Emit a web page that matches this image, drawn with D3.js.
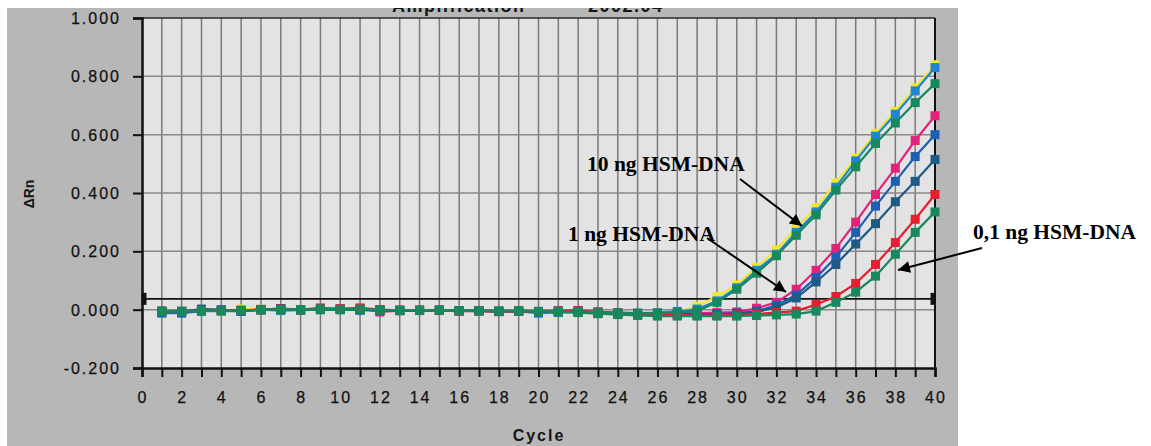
<!DOCTYPE html>
<html>
<head>
<meta charset="utf-8">
<script src="https://cdn.jsdelivr.net/npm/d3@7"></script>
<style>
  html, body { margin: 0; padding: 0; background: #fff; }
  svg { display: block; }
  .tick-label { font-family: "Liberation Sans", Arial, sans-serif; font-size: 16px; fill: #111; letter-spacing: 2px; stroke: #111; stroke-width: 0.25px; }
  .axis-title { font-family: "Liberation Sans", Arial, sans-serif; font-weight: bold; fill: #151515; }
  .note { font-family: "Liberation Serif", "Times New Roman", serif; font-weight: bold; font-size: 21.5px; fill: #000; }
</style>
</head>
<body>
<svg id="chart" width="1151" height="446"></svg>
<script>
// cycles on the x axis
const cycles = [1,2,3,4,5,6,7,8,9,10,11,12,13,14,15,16,17,18,19,20,
                21,22,23,24,25,26,27,28,29,30,31,32,33,34,35,36,37,38,39,40];

const xTicks = [0,2,4,6,8,10,12,14,16,18,20,22,24,26,28,30,32,34,36,38,40];
const yTicks = [-0.2, 0, 0.2, 0.4, 0.6, 0.8, 1.0];
const threshold = 0.037;

// 10 ng HSM-DNA
const yellow10 = [-0.008,-0.01,-0.004,-0.004,0.002,0.002,0.001,-0.001,0.001,0.002,0.0,-0.002,-0.003,-0.002,-0.002,-0.004,-0.004,-0.006,-0.006,-0.007,
                  -0.008,-0.01,-0.012,-0.012,-0.014,-0.012,-0.008,0.012,0.045,0.085,0.145,0.205,0.28,0.35,0.435,0.52,0.605,0.68,0.76,0.84];
const lightBlue10 = [-0.012,-0.012,-0.005,-0.004,-0.006,0.0,-0.003,-0.002,0.0,0.003,-0.002,-0.002,-0.004,-0.003,-0.002,-0.004,-0.005,-0.006,-0.006,-0.012,
                  -0.01,-0.008,-0.012,-0.014,-0.012,-0.01,-0.006,0.002,0.03,0.075,0.135,0.19,0.265,0.335,0.42,0.51,0.595,0.67,0.75,0.83];
const green10 = [-0.005,-0.005,-0.004,-0.004,-0.003,-0.001,0.0,0.0,0.002,0.001,0.002,-0.001,-0.002,-0.002,-0.001,-0.003,-0.004,-0.005,-0.004,-0.006,
                  -0.007,-0.008,-0.01,-0.012,-0.013,-0.012,-0.01,-0.005,0.025,0.07,0.125,0.185,0.255,0.325,0.41,0.49,0.57,0.64,0.71,0.775];
// 1 ng HSM-DNA
const magenta1 = [-0.006,-0.006,-0.003,-0.003,-0.002,0.0,0.002,0.0,0.006,0.003,0.004,-0.008,-0.003,-0.002,-0.003,-0.005,-0.005,-0.007,-0.006,-0.008,
                  -0.006,-0.007,-0.012,-0.015,-0.018,-0.02,-0.018,-0.012,-0.01,-0.008,0.005,0.025,0.07,0.135,0.21,0.3,0.395,0.485,0.58,0.665];
const blue1 = [-0.01,-0.01,-0.004,-0.002,-0.004,0.001,0.003,-0.001,0.0,0.001,-0.001,-0.003,-0.003,-0.003,-0.002,-0.004,-0.003,-0.006,-0.005,-0.009,
                  -0.005,-0.006,-0.01,-0.012,-0.015,-0.016,-0.015,-0.015,-0.015,-0.012,-0.005,0.015,0.05,0.11,0.18,0.265,0.355,0.44,0.525,0.6];
const darkBlue1 = [-0.006,-0.007,0.002,0.0,-0.005,0.0,0.004,0.0,0.001,0.0,0.0,-0.002,-0.002,-0.002,-0.002,-0.003,-0.003,-0.005,-0.004,-0.006,
                  -0.004,-0.003,-0.008,-0.01,-0.012,-0.014,-0.014,-0.015,-0.018,-0.015,-0.008,0.008,0.04,0.095,0.155,0.225,0.295,0.37,0.44,0.515];
// 0,1 ng HSM-DNA
const red01 = [-0.005,-0.006,-0.003,-0.003,-0.002,0.0,0.002,0.0,0.004,0.003,0.006,0.0,-0.002,-0.002,-0.003,-0.004,-0.004,-0.006,-0.005,-0.006,
                  -0.005,-0.004,-0.008,-0.012,-0.015,-0.018,-0.018,-0.02,-0.02,-0.018,-0.015,-0.01,-0.005,0.018,0.045,0.09,0.155,0.23,0.31,0.395];
const green01 = [-0.006,-0.006,-0.004,-0.004,-0.003,-0.001,0.0,0.0,0.002,0.0,0.001,-0.001,-0.002,-0.002,-0.002,-0.003,-0.004,-0.005,-0.005,-0.007,
                  -0.008,-0.01,-0.014,-0.017,-0.02,-0.022,-0.022,-0.022,-0.022,-0.022,-0.02,-0.018,-0.015,-0.005,0.025,0.06,0.115,0.19,0.265,0.335];

// drawing order matters: greens end up on top, like the scan
const series = [
  { values: yellow10,    color: "#f3e62e" },
  { values: lightBlue10, color: "#1c86d2" },
  { values: magenta1,    color: "#e2237c" },
  { values: blue1,       color: "#1d5fb2" },
  { values: darkBlue1,   color: "#1e5a86" },
  { values: red01,       color: "#e51e30" },
  { values: green10,     color: "#17895c" },
  { values: green01,     color: "#17895c" }
];

const notes = [
  { text: "10 ng HSM-DNA",  x: 587, y: 171, from: [740, 179], to: [802, 226] },
  { text: "1 ng HSM-DNA",   x: 568, y: 241, from: [707, 238], to: [786, 292] },
  { text: "0,1 ng HSM-DNA", x: 973, y: 239, from: [982, 248], to: [898, 270] }
];

const svg = d3.select("#chart");
const plotLeft = 142, plotRight = 935, plotTop = 18, plotBottom = 368;

const x = d3.scaleLinear().domain([0, 40]).range([plotLeft, plotRight]);
const y = d3.scaleLinear().domain([-0.2, 1.0]).range([plotBottom, plotTop]);

const defs = svg.append("defs");
defs.append("marker")
  .attr("id", "arrow")
  .attr("viewBox", "0 0 10 10")
  .attr("refX", 10).attr("refY", 5)
  .attr("markerWidth", 8).attr("markerHeight", 6)
  .attr("markerUnits", "strokeWidth")
  .attr("orient", "auto")
  .append("path").attr("d", "M0,0 L10,5 L0,10 z").attr("fill", "#000");

// scanned page background
svg.append("rect").attr("x", 7).attr("y", 0).attr("width", 951).attr("height", 446).attr("fill", "#b7b7b7");

// title, its top half is cut off by the edge of the scan
const title = svg.append("g");
title.append("text").attr("class", "axis-title").attr("x", 392).attr("y", 12)
  .attr("font-size", 18).attr("letter-spacing", 1.5).text("Amplification");
title.append("text").attr("class", "axis-title").attr("x", 588).attr("y", 12)
  .attr("font-size", 18).attr("letter-spacing", 1.5).text("2002.04");
svg.append("rect").attr("x", 0).attr("y", 0).attr("width", 1151).attr("height", 8).attr("fill", "#fff");
svg.append("rect").attr("x", 0).attr("y", 0).attr("width", 7).attr("height", 446).attr("fill", "#fff");

// plot area
svg.append("rect")
  .attr("x", plotLeft).attr("y", plotTop)
  .attr("width", plotRight - plotLeft).attr("height", plotBottom - plotTop)
  .attr("fill", "#e3e3e3");

// grid
svg.append("g").selectAll("line").data(cycles.slice(0, 39)).join("line")
  .attr("x1", d => x(d)).attr("x2", d => x(d))
  .attr("y1", plotTop).attr("y2", plotBottom)
  .attr("stroke", "#7a7a7a").attr("stroke-width", 1.5);
svg.append("g").selectAll("line").data(yTicks.slice(1, 6)).join("line")
  .attr("x1", plotLeft).attr("x2", plotRight)
  .attr("y1", d => y(d)).attr("y2", d => y(d))
  .attr("stroke", "#888").attr("stroke-width", 1.5);

// frame
svg.append("line").attr("x1", plotLeft).attr("x2", plotRight).attr("y1", plotTop).attr("y2", plotTop)
  .attr("stroke", "#2a2a2a").attr("stroke-width", 1.5);
svg.append("line").attr("x1", plotRight).attr("x2", plotRight).attr("y1", plotTop).attr("y2", plotBottom)
  .attr("stroke", "#111").attr("stroke-width", 2);

// axes
const xAxis = d3.axisBottom(x).tickValues([0].concat(cycles)).tickSize(9).tickFormat("");
const gx = svg.append("g").attr("transform", `translate(0,${plotBottom})`).call(xAxis);
gx.select(".domain").attr("stroke", "#111").attr("stroke-width", 2.5);
gx.selectAll(".tick line").attr("stroke", "#111").attr("stroke-width", 2);

svg.append("g").selectAll("text").data(xTicks).join("text")
  .attr("class", "tick-label")
  .attr("x", d => x(d) + 1)
  .attr("y", 403)
  .attr("text-anchor", "middle")
  .text(d => d);

const yAxis = d3.axisLeft(y).tickValues(yTicks).tickSize(9).tickFormat("");
const gy = svg.append("g").attr("transform", `translate(${plotLeft},0)`).call(yAxis);
gy.select(".domain").attr("stroke", "#111").attr("stroke-width", 2.5);
gy.selectAll(".tick line").attr("stroke", "#111").attr("stroke-width", 2);

svg.append("g").selectAll("text").data(yTicks).join("text")
  .attr("class", "tick-label")
  .attr("x", 121)
  .attr("y", d => y(d) + 6)
  .attr("text-anchor", "end")
  .text(d => d3.format(".3f")(d).replace("−", "-"));

svg.append("text").attr("class", "axis-title")
  .attr("x", 539).attr("y", 441)
  .attr("text-anchor", "middle")
  .attr("font-size", 16).attr("letter-spacing", 2)
  .text("Cycle");

svg.append("text").attr("class", "axis-title")
  .attr("transform", "translate(34,194) rotate(-90)")
  .attr("text-anchor", "middle")
  .attr("font-size", 14)
  .text("ΔRn");

// threshold line
svg.append("line")
  .attr("x1", plotLeft).attr("x2", plotRight)
  .attr("y1", y(threshold)).attr("y2", y(threshold))
  .attr("stroke", "#111").attr("stroke-width", 1.6);
svg.append("g").selectAll("rect").data([0.1, 39.9]).join("rect")
  .attr("x", d => x(d) - 2.5).attr("y", y(threshold) - 6)
  .attr("width", 5).attr("height", 12).attr("fill", "#111");

// amplification curves
const line = d3.line().x((d, i) => x(cycles[i])).y(d => y(d));
const curves = svg.append("g");
series.forEach(s => {
  const g = curves.append("g");
  g.append("path")
    .attr("d", line(s.values))
    .attr("fill", "none")
    .attr("stroke", s.color)
    .attr("stroke-width", 2.2);
  g.selectAll("rect").data(s.values).join("rect")
    .attr("x", (d, i) => x(cycles[i]) - 4.5)
    .attr("y", d => y(d) - 4.5)
    .attr("width", 9).attr("height", 9)
    .attr("fill", s.color);
});

// annotations
notes.forEach(n => {
  svg.append("text").attr("class", "note").attr("x", n.x).attr("y", n.y).text(n.text);
  svg.append("line")
    .attr("x1", n.from[0]).attr("y1", n.from[1])
    .attr("x2", n.to[0]).attr("y2", n.to[1])
    .attr("stroke", "#000").attr("stroke-width", 2)
    .attr("marker-end", "url(#arrow)");
});
</script>
</body>
</html>
